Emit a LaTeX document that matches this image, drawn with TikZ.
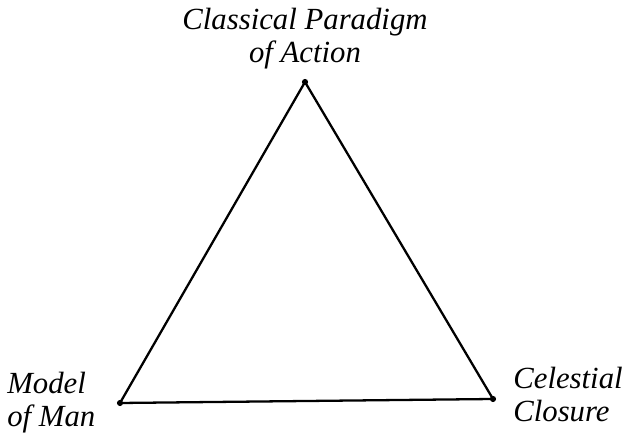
\documentclass[tikz,border=0pt]{standalone}
\usepackage{fontspec}
\setmainfont{Liberation Serif}
\usepackage{tikz}
\usetikzlibrary{positioning,calc}
\tikzset{vtx/.style={circle,fill=black,inner sep=0pt,minimum size=3.5pt},lbl/.style={font=\fontsize{17.5}{18.5}\selectfont\itshape,inner sep=0pt},side/.style={draw=black,line width=1.3pt}}
\begin{document}
\begin{tikzpicture}[x=0.02cm,y=-0.02cm]
\useasboundingbox (0,0) rectangle (626,438);
\node[vtx] (top) at (305,82) {};
\node[vtx] (man) at (120,403) {};
\node[vtx] (sky) at (493,399) {};
\node[lbl,align=center,anchor=north] (para) at (305,8) {Classical Paradigm\\of Action};
\node[lbl,align=left,anchor=north west] (model) at (7,372) {Model\\of Man};
\node[lbl,align=left,anchor=north west] (cel) at (513,367) {Celestial\\Closure};
\draw[side] (top.center)--(man.center)--(sky.center)--cycle;
\end{tikzpicture}
\end{document}
